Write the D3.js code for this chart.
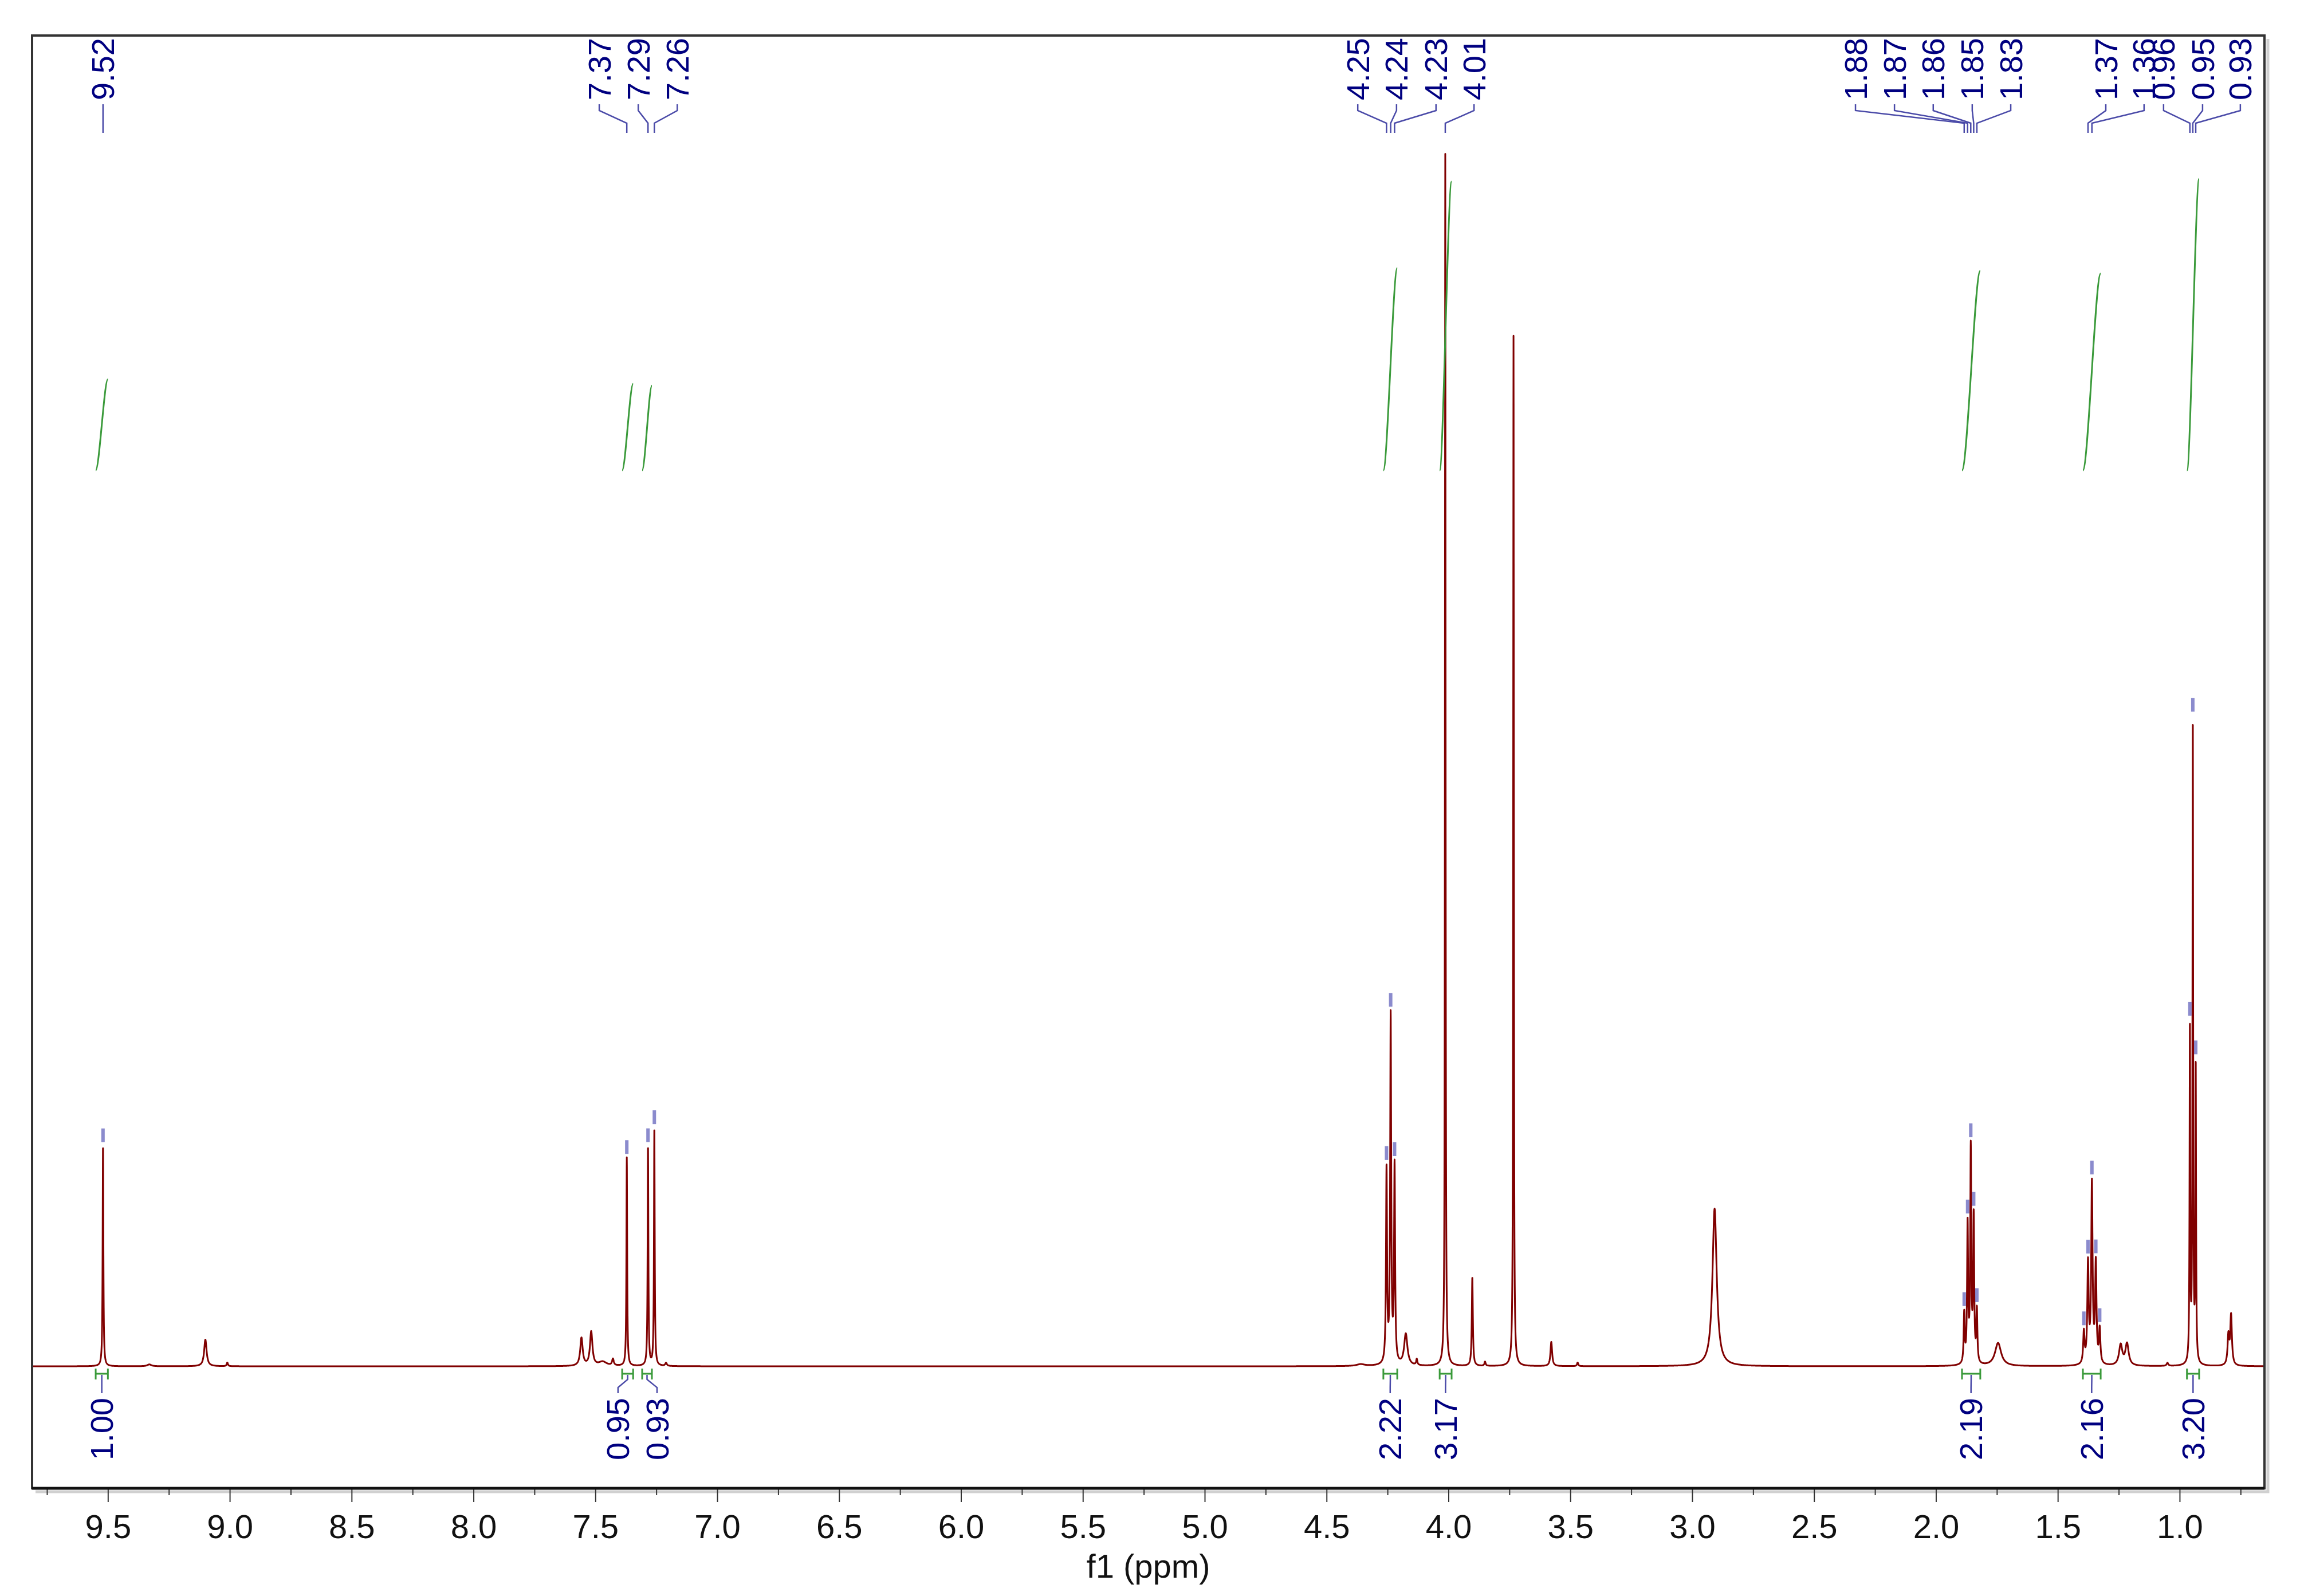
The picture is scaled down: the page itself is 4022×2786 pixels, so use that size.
<!DOCTYPE html>
<html>
<head>
<meta charset="utf-8">
<script src="https://cdnjs.cloudflare.com/ajax/libs/d3/7.8.5/d3.min.js"></script>
<style>
body { margin: 0; background: #fff; }
svg text { font-family: "Liberation Sans", Arial, sans-serif; }
</style>
</head>
<body>
<svg id="chart"></svg>
<script>
// peak list: shift (ppm), height (% of the 4.01 singlet), half width (ppm)
var peakPpm    = [9.520, 9.330, 9.100, 9.010, 7.557, 7.517, 7.470, 7.428, 7.371, 7.284, 7.258, 7.210,
                  4.360, 4.254, 4.237, 4.221, 4.175, 4.130, 4.013, 3.902, 3.850, 3.733, 3.578, 3.470,
                  2.908, 1.884, 1.870, 1.857, 1.845, 1.832, 1.745, 1.393, 1.376, 1.360, 1.344, 1.328,
                  1.242, 1.216, 1.050, 0.958, 0.946, 0.934, 0.800, 0.789];
var peakHeight = [18.2, 0.15, 2.2, 0.3, 2.3, 2.8, 0.35, 0.55, 17.2, 18.1, 19.6, 0.25,
                  0.15, 16.0, 28.6, 16.2, 2.6, 0.5, 100, 7.3, 0.35, 85.0, 2.0, 0.3,
                  13.0, 4.1, 11.4, 17.6, 11.9, 4.3, 1.9, 2.6, 8.2, 14.8, 8.2, 2.8,
                  1.7, 1.8, 0.25, 27.6, 52.8, 24.4, 2.4, 4.1];
var peakWidth  = [0.0018, 0.01, 0.006, 0.003, 0.006, 0.006, 0.02, 0.004, 0.0018, 0.0018, 0.0018, 0.004,
                  0.02, 0.0025, 0.0025, 0.0025, 0.008, 0.003, 0.0015, 0.0025, 0.003, 0.0015, 0.004, 0.003,
                  0.0105, 0.0025, 0.0025, 0.0025, 0.0025, 0.0025, 0.015, 0.0033, 0.0033, 0.0033, 0.0033, 0.0033,
                  0.008, 0.008, 0.004, 0.0016, 0.0016, 0.0016, 0.004, 0.004];

// picked peaks (small markers above the tops)
var markPpm = [9.520, 7.371, 7.284, 7.258, 4.254, 4.237, 4.221, 1.884, 1.870, 1.857, 1.845, 1.832,
               1.393, 1.376, 1.360, 1.344, 1.328, 0.958, 0.946, 0.934];

// shift labels on top: text, peak they point to, where the text sits (ppm)
var labelText = ["9.52", "7.37", "7.29", "7.26", "4.25", "4.24", "4.23", "4.01",
                 "1.88", "1.87", "1.86", "1.85", "1.83", "1.37", "1.36", "0.96", "0.95", "0.93"];
var labelPeak = [9.520, 7.371, 7.284, 7.258, 4.254, 4.237, 4.221, 4.013,
                 1.884, 1.870, 1.857, 1.845, 1.832, 1.376, 1.360, 0.958, 0.946, 0.934];
var labelPos  = [9.520, 7.484, 7.324, 7.164, 4.372, 4.213, 4.051, 3.895,
                 2.330, 2.170, 2.011, 1.851, 1.693, 1.303, 1.146, 1.066, 0.906, 0.751];

// integrals: range (ppm), value, label position (ppm)
var intFrom  = [9.550, 7.390, 7.308, 4.267, 4.036, 1.893, 1.397, 0.970];
var intTo    = [9.500, 7.345, 7.268, 4.210, 3.987, 1.818, 1.324, 0.920];
var intValue = [1.00, 0.95, 0.93, 2.22, 3.17, 2.19, 2.16, 3.20];
var intLabel = [9.525, 7.407, 7.247, 4.239, 4.012, 1.856, 1.361, 0.945];

var majorTicks = [9.5, 9.0, 8.5, 8.0, 7.5, 7.0, 6.5, 6.0, 5.5, 5.0, 4.5, 4.0, 3.5, 3.0, 2.5, 2.0, 1.5, 1.0];
var minorTicks = [9.75, 9.25, 8.75, 8.25, 7.75, 7.25, 6.75, 6.25, 5.75, 5.25, 4.75, 4.25, 3.75, 3.25,
                  2.75, 2.25, 1.75, 1.25, 0.75];

var width = 4022, height = 2786;
var plot = {left: 56, right: 3953, top: 62, bottom: 2598};

var x = d3.scaleLinear().domain([9.811, 0.652]).range([plot.left, plot.right]);
var y = d3.scaleLinear().domain([0, 100]).range([2385, 269]);
var yInt = d3.scaleLinear().domain([0, 1]).range([821, 662]);

var svg = d3.select("#chart")
    .attr("width", width)
    .attr("height", height);

function intensity(p) {
    var s = 0;
    for (var k = 0; k < peakPpm.length; k++) {
        var u = (p - peakPpm[k]) / peakWidth[k];
        s += peakHeight[k] / (1 + u * u);
    }
    return s;
}

// sample the trace finely so the narrow lines keep their tops
var step = 0.0004;
var trace = d3.range(x.domain()[0], x.domain()[1], -step).map(function(p) { return [p, intensity(p)]; });

svg.append("clipPath").attr("id", "clip")
    .append("rect")
    .attr("x", plot.left).attr("y", plot.top)
    .attr("width", plot.right - plot.left).attr("height", plot.bottom - plot.top);

svg.append("path")
    .datum(trace)
    .attr("clip-path", "url(#clip)")
    .attr("fill", "none")
    .attr("stroke", "#800000")
    .attr("stroke-width", 3)
    .attr("stroke-linejoin", "round")
    .attr("d", d3.line().x(function(d) { return x(d[0]); }).y(function(d) { return y(d[1]); }));

// peak pick markers
svg.append("g").selectAll("rect")
    .data(markPpm)
    .enter().append("rect")
    .attr("x", function(d) { return x(d) - 3; })
    .attr("y", function(d) { return y(intensity(d)) - 30; })
    .attr("width", 6)
    .attr("height", 24)
    .attr("fill", "#5a5ab8")
    .attr("opacity", 0.7);

// integral curves
var integ = svg.append("g").attr("fill", "none").attr("stroke", "#3a9a3a").attr("stroke-width", 3);
intValue.forEach(function(v, i) {
    var x0 = x(intFrom[i]), x1 = x(intTo[i]), dx = x1 - x0;
    var p = d3.path();
    p.moveTo(x0, yInt(0));
    p.bezierCurveTo(x0 + 0.3 * dx, yInt(0), x1 - 0.3 * dx, yInt(v), x1, yInt(v));
    integ.append("path").attr("d", p.toString());
});

// integral brackets + labels
var brk = svg.append("g");
intValue.forEach(function(v, i) {
    var x0 = x(intFrom[i]), x1 = x(intTo[i]), cx = (x0 + x1) / 2, lx = x(intLabel[i]);
    brk.append("path")
        .attr("d", "M" + x0 + ",2389V2408M" + x0 + ",2398H" + x1 + "M" + x1 + ",2389V2408")
        .attr("fill", "none").attr("stroke", "#3a9a3a").attr("stroke-width", 3);
    brk.append("path")
        .attr("d", "M" + cx + ",2400V2408L" + lx + ",2422V2432")
        .attr("fill", "none").attr("stroke", "#4a4aa8").attr("stroke-width", 2.5);
    brk.append("text")
        .attr("transform", "translate(" + lx + ",2440) rotate(-90)")
        .attr("text-anchor", "end")
        .attr("dy", "0.35em")
        .attr("font-size", 56)
        .attr("fill", "#000080")
        .text(v.toFixed(2));
});

// shift labels with their leader lines
var lab = svg.append("g");
labelText.forEach(function(t, i) {
    var lx = x(labelPos[i]), px = x(labelPeak[i]);
    lab.append("path")
        .attr("d", "M" + lx + ",182V193L" + px + ",215V232")
        .attr("fill", "none").attr("stroke", "#4a4aa8").attr("stroke-width", 2.5);
    lab.append("text")
        .attr("transform", "translate(" + lx + ",66) rotate(-90)")
        .attr("text-anchor", "end")
        .attr("dy", "0.35em")
        .attr("font-size", 56)
        .attr("fill", "#000080")
        .text(t);
});

// frame with a soft shadow
svg.append("path")
    .attr("d", "M" + (plot.right + 6) + "," + (plot.top + 6) + "V" + (plot.bottom + 6) + "H" + (plot.left + 6))
    .attr("fill", "none").attr("stroke", "#d0d0d0").attr("stroke-width", 5);
svg.append("rect")
    .attr("x", plot.left).attr("y", plot.top)
    .attr("width", plot.right - plot.left).attr("height", plot.bottom - plot.top)
    .attr("fill", "none").attr("stroke", "#333").attr("stroke-width", 4);

// x axis
var axisG = svg.append("g").attr("transform", "translate(0," + plot.bottom + ")");
axisG.append("g")
    .call(d3.axisBottom(x).tickValues(minorTicks).tickSize(12).tickFormat(""))
    .call(function(g) { g.select(".domain").remove(); });
axisG.append("g")
    .call(d3.axisBottom(x).tickValues(majorTicks).tickSize(24).tickPadding(22).tickFormat(d3.format(".1f")))
    .call(function(g) { g.select(".domain").remove(); });
axisG.selectAll("line").attr("stroke", "#333").attr("stroke-width", 2);
axisG.selectAll("text").attr("font-size", 58).attr("fill", "#111")
    .attr("font-family", "Liberation Sans, Arial, sans-serif");
axisG.append("line")
    .attr("x1", plot.left).attr("x2", plot.right)
    .attr("stroke", "#111").attr("stroke-width", 5);

svg.append("text")
    .attr("x", (plot.left + plot.right) / 2)
    .attr("y", 2754)
    .attr("text-anchor", "middle")
    .attr("font-size", 58)
    .attr("fill", "#111")
    .text("f1 (ppm)");
</script>
</body>
</html>
